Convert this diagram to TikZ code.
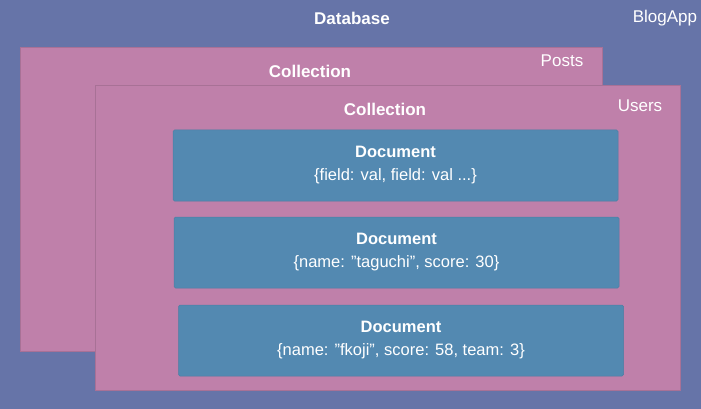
\documentclass[tikz,border=0pt]{standalone}
\usepackage{fontspec}
\setmainfont{Liberation Sans}
\definecolor{dbblue}{RGB}{102,116,168}
\definecolor{collpink}{RGB}{191,128,170}
\definecolor{docblue}{RGB}{83,137,177}
\begin{document}
\begin{tikzpicture}[x=1pt,y=-1pt,
    collbox/.style={fill=collpink,draw=collpink!88!black,line width=0.5pt,anchor=north west,inner sep=0pt},
    docbox/.style={fill=docblue,draw=docblue!92!black,line width=0.5pt,rounded corners=1.5pt,inner sep=0pt,
        minimum width=445pt,minimum height=71pt,text=white,align=center,font=\fontsize{16.5}{23}\selectfont},
    title/.style={text=white,font=\fontsize{17}{19}\selectfont\bfseries},
    tag/.style={text=white,font=\fontsize{17}{19}\selectfont}]
    \fill[dbblue] (0,0) rectangle (701,409);
    \useasboundingbox (0,0) rectangle (701,409);
    \node[title] (dbtitle) at (352,18) {Database};
    \node[tag] (dbname) at (665,18) {BlogApp};
    % collections
    \node[collbox,minimum width=582pt,minimum height=304pt] (posts) at (20,47) {};
    \node[title] (poststitle) at (310,71) {Collection};
    \node[tag] (postsname) at (562,61) {Posts};
    \node[collbox,minimum width=585pt,minimum height=305pt] (users) at (95,85) {};
    \node[title] (userstitle) at (385,109) {Collection};
    \node[tag] (usersname) at (640,106) {Users};
    % documents
    \node[docbox] (doca) at (395.5,165.5) {\textbf{Document}\\\{field: val, field: val ...\}};
    \node[docbox] (docb) at (396.5,252.5) {\textbf{Document}\\\{name: "taguchi", score: 30\}};
    \node[docbox] (docc) at (401,340.5) {\textbf{Document}\\\{name: "fkoji", score: 58, team: 3\}};
\end{tikzpicture}
\end{document}
